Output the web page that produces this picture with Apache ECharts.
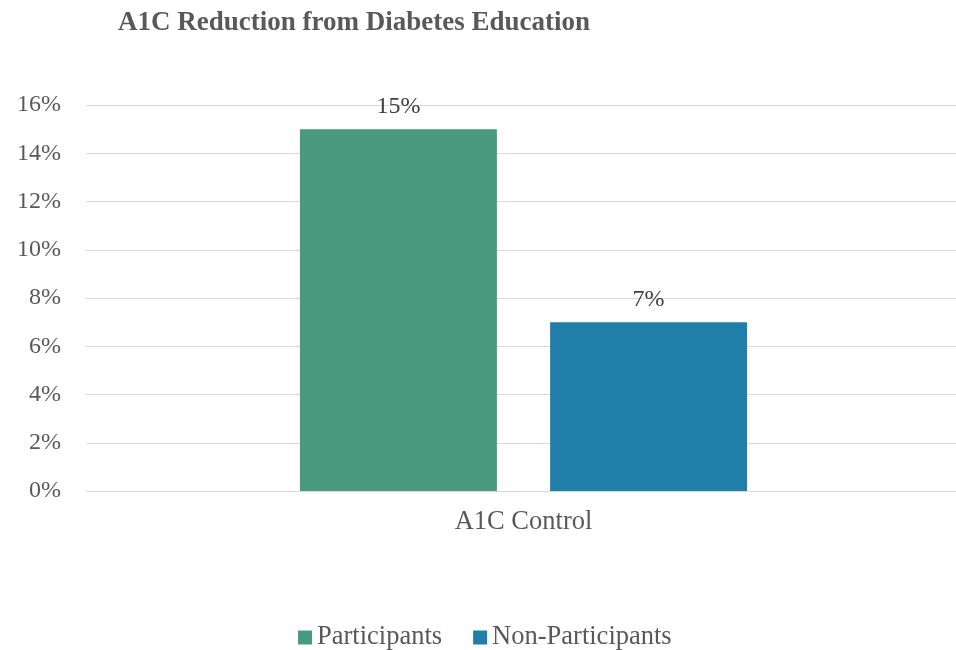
<!DOCTYPE html>
<html>
<head>
<meta charset="utf-8">
<script src="https://cdn.jsdelivr.net/npm/echarts@6/dist/echarts.min.js"></script>
<style>
  html, body { margin: 0; padding: 0; background: #ffffff; }
  #chart { width: 956px; height: 650px; }
</style>
</head>
<body>
<div id="chart"></div>
<script>
// A1C control improvement, participants vs. non-participants
const categories = ['A1C Control'];
const seriesNames = ['Participants', 'Non-Participants'];
const participants = [15];
const nonParticipants = [7];
const seriesColors = ['#4a9a80', '#1f7fa9'];

const FONT = '"Liberation Serif", "Times New Roman", serif';
const chart = echarts.init(document.getElementById('chart'));

chart.setOption({
  animation: false,
  backgroundColor: '#ffffff',
  title: {
    text: 'A1C Reduction from Diabetes Education',
    left: 113,
    top: 5,
    textStyle: { fontFamily: FONT, fontSize: 27, fontWeight: 'bold', color: '#595959' }
  },
  legend: {
    left: 293,
    top: 619,
    itemWidth: 14,
    itemHeight: 14,
    itemGap: 31,
    icon: 'rect',
    textStyle: { fontFamily: FONT, fontSize: 26.5, color: '#595959' },
    data: seriesNames
  },
  grid: { left: 86, width: 875, top: 105, bottom: 159, containLabel: false, outerBoundsMode: 'none' },
  xAxis: {
    type: 'category',
    data: categories,
    axisLine: { show: true, lineStyle: { color: '#d9d9d9', width: 1 } },
    axisTick: { show: false },
    axisLabel: { fontFamily: FONT, fontSize: 26.5, color: '#595959', margin: 18 }
  },
  yAxis: {
    type: 'value',
    min: 0,
    max: 16,
    interval: 2,
    axisLine: { show: false },
    axisTick: { show: false },
    splitLine: { lineStyle: { color: '#d9d9d9', width: 1 } },
    axisLabel: { fontFamily: FONT, fontSize: 24, color: '#595959', margin: 25, formatter: '{value}%' }
  },
  series: [
    {
      name: seriesNames[0],
      type: 'bar',
      data: participants,
      barWidth: 197,
      barGap: '27%',
      itemStyle: { color: seriesColors[0] },
      label: { show: true, position: 'top', distance: 10, formatter: '{c}%', fontFamily: FONT, fontSize: 24, color: '#404040' }
    },
    {
      name: seriesNames[1],
      type: 'bar',
      data: nonParticipants,
      barWidth: 197,
      itemStyle: { color: seriesColors[1] },
      label: { show: true, position: 'top', distance: 10, formatter: '{c}%', fontFamily: FONT, fontSize: 24, color: '#404040' }
    }
  ]
});
</script>
</body>
</html>
